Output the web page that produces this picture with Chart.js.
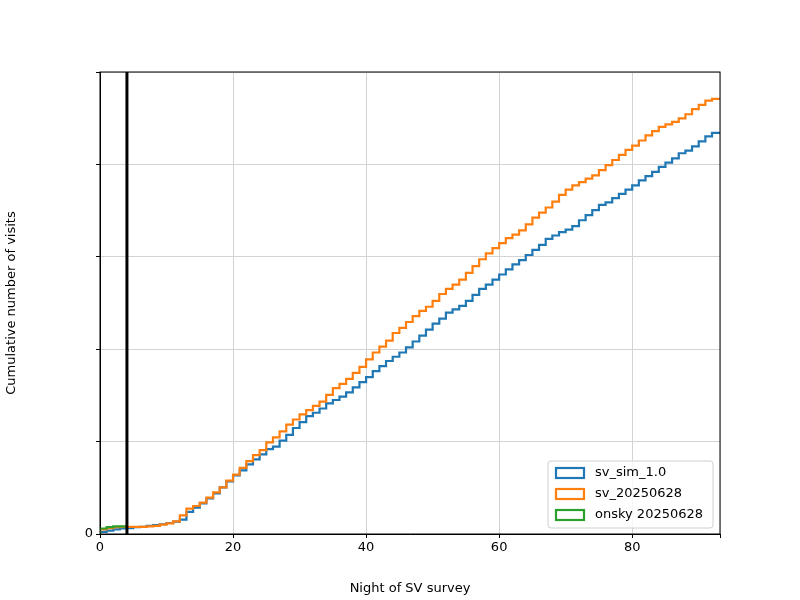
<!DOCTYPE html>
<html><head><meta charset="utf-8">
<script src="https://cdn.jsdelivr.net/npm/chart.js@4"></script>
<style>html,body{margin:0;padding:0;background:#fff}</style>
</head><body><canvas id="c" width="800" height="600"></canvas>
<script>
const simValues=[100,250,400,550,650,700,800,850,950,1050,1150,1300,1450,1700,2600,3100,3600,4200,4800,5500,
6200,6900,7500,8200,8800,9400,10000,10300,11000,11700,12500,13200,13900,14300,14800,15400,15800,16200,16700,17300,
17900,18500,19200,19800,20400,20900,21400,22000,22700,23400,24100,24800,25400,26100,26500,26900,27500,28200,28900,29400,
30000,30600,31200,31800,32300,32900,33500,34100,34800,35200,35600,35900,36300,37000,37600,38200,38800,39100,39600,40100,
40600,41100,41700,42200,42700,43300,43800,44300,44900,45200,45700,46300,46900,47300];
const svValues=[250,550,700,800,850,850,850,850,900,950,1100,1250,1500,2200,3000,3300,3700,4300,4900,5500,
6300,7000,7800,8600,9300,9900,10800,11400,12100,12900,13500,14100,14600,15100,15600,16400,17200,17700,18300,19000,
19700,20600,21400,22100,22800,23700,24300,25000,25700,26300,26800,27500,28300,28900,29400,30000,30800,31600,32400,33100,
33700,34300,34900,35300,35800,36500,37300,37900,38500,39200,40000,40600,41100,41500,41900,42300,42900,43500,44100,44700,
45300,45800,46400,47000,47500,48000,48300,48600,49000,49500,50100,50600,51100,51300];
const onskyValues=[300,650,800,900];
const markerNight=4.05;
const labels=['sv_sim_1.0','sv_20250628','onsky 20250628'];
const colors=['#1f77b4','#ff7f0e','#2ca02c'];
const xMax=93.2, yMax=54480;

function steps(v){const p=[{x:0,y:0}];v.forEach((y,i)=>p.push({x:i,y:y}));p.push({x:v.length,y:v[v.length-1]});return p;}
const mk=(i,v,o)=>({label:labels[i],data:steps(v),borderColor:colors[i],backgroundColor:'rgba(0,0,0,0)',borderWidth:2.2,stepped:'after',pointRadius:0,order:o,fill:false});

const frame={id:'frame',afterDraw(ch){const c=ch.ctx,a=ch.chartArea;c.save();c.strokeStyle='#000';c.lineWidth=1;
c.strokeRect(a.left,a.top,a.right-a.left,a.bottom-a.top);
const x0=548,y0=461,w=165,h=67;c.fillStyle='rgba(255,255,255,0.8)';c.strokeStyle='#d0d0d0';
c.beginPath();if(c.roundRect)c.roundRect(x0,y0,w,h,3);else c.rect(x0,y0,w,h);c.fill();c.stroke();
c.font='13px "DejaVu Sans"';c.textBaseline='middle';
const ys=[473,494,515];
for(let i=0;i<3;i++){c.strokeStyle=colors[i];c.lineWidth=2.2;c.strokeRect(556,ys[i]-5,28,10);c.fillStyle='#000';c.fillText(labels[i],595,ys[i]);}
c.restore();}};

new Chart(document.getElementById('c'),{type:'line',
data:{datasets:[mk(0,simValues,3),mk(1,svValues,2),mk(2,onskyValues,1),
{label:'marker',data:[{x:markerNight,y:0},{x:markerNight,y:yMax}],borderColor:'#000',borderWidth:3,pointRadius:0,order:0}]},
options:{responsive:false,animation:false,devicePixelRatio:1,
layout:{padding:{left:0,right:80,top:72,bottom:0}},
plugins:{legend:{display:false},tooltip:{enabled:false}},
scales:{
x:{type:'linear',min:0,max:xMax,afterFit:s=>{s.height=66;},
ticks:{stepSize:20,color:'#000',font:{family:'DejaVu Sans',size:13},maxRotation:0,padding:2,callback:v=>v%20===0?v:''},
grid:{color:'#d3d3d3',tickColor:'#000',tickLength:4},border:{color:'#000'},
title:{display:true,text:'Night of SV survey',color:'#000',font:{family:'DejaVu Sans',size:13},padding:{top:2}}},
y:{min:0,max:yMax,afterFit:s=>{s.width=100;},
ticks:{stepSize:10000,color:'#000',font:{family:'DejaVu Sans',size:13},padding:3,callback:v=>v%10000===0?v:''},
grid:{color:'#d3d3d3',tickColor:'#000',tickLength:4},border:{color:'#000'},
title:{display:true,text:'Cumulative number of visits',color:'#000',font:{family:'DejaVu Sans',size:13},padding:{bottom:4}}}}},
plugins:[frame]});
</script></body></html>
